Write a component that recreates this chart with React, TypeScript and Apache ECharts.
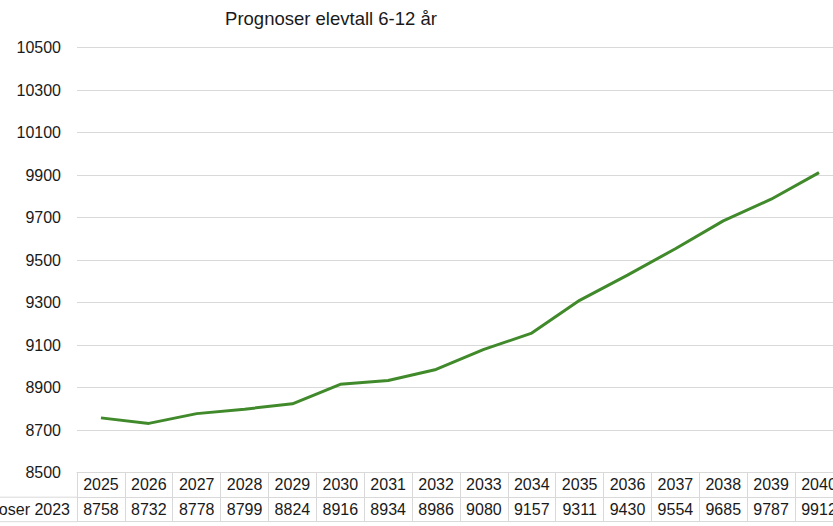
import React, { useEffect, useRef } from "react";
import * as echarts from "echarts";

const years = ["2025","2026","2027","2028","2029","2030","2031","2032","2033","2034","2035","2036","2037","2038","2039","2040"];
const values = [8758,8732,8778,8799,8824,8916,8934,8986,9080,9157,9311,9430,9554,9685,9787,9912];
const seriesName = "Prognoser 2023";
const title = "Prognoser elevtall 6-12 år";
const yTicks = { min: 8500, max: 10500, interval: 200 };

const FONT = "'Liberation Sans', Arial, sans-serif";
const GRID_LEFT = 77;
const COL_W = 47.87;
const GRID_W = COL_W * years.length;
const PLOT_TOP = 47.7;
const PLOT_H = 425;
const TABLE_TOP = PLOT_TOP + PLOT_H;
const ROW_H = 24.5;
const BORDER = "#d9d9d9";

export default function App() {
  const ref = useRef<HTMLDivElement>(null);
  useEffect(() => {
    if (!ref.current) return;
    const chart = echarts.init(ref.current, undefined, { renderer: "svg" });
    const tableData: any[] = [];
    years.forEach((y, i) => {
      tableData.push([i, 0, y]);
      tableData.push([i, 1, String(values[i])]);
    });
    chart.setOption({
      animation: false,
      backgroundColor: "#ffffff",
      title: {
        text: title,
        left: 326,
        top: 4,
        textAlign: "center",
        textStyle: { fontFamily: FONT, fontSize: 18.5, fontWeight: "normal", color: "#1a1a1a" },
      },
      grid: [
        { left: GRID_LEFT, top: PLOT_TOP, width: GRID_W, height: PLOT_H, containLabel: false, outerBoundsMode: "none" },
        { left: GRID_LEFT, top: TABLE_TOP, width: GRID_W, height: ROW_H * 2, containLabel: false, outerBoundsMode: "none" },
      ],
      xAxis: [
        {
          gridIndex: 0,
          type: "category",
          data: years,
          boundaryGap: true,
          axisLine: { show: true, lineStyle: { color: BORDER, width: 1 } },
          axisTick: { show: false },
          axisLabel: { show: false },
        },
        {
          gridIndex: 1,
          type: "category",
          data: years,
          boundaryGap: true,
          position: "bottom",
          axisLine: { show: true, lineStyle: { color: BORDER, width: 1 } },
          axisTick: { show: false },
          axisLabel: { show: false },
          splitLine: { show: true, lineStyle: { color: BORDER, width: 1 } },
        },
      ],
      yAxis: [
        {
          gridIndex: 0,
          type: "value",
          min: yTicks.min,
          max: yTicks.max,
          interval: yTicks.interval,
          axisLine: { show: false },
          axisTick: { show: false },
          axisLabel: { fontFamily: FONT, fontSize: 16, color: "#1a1a1a", margin: 16, formatter: (v: number) => String(v) },
          splitLine: { show: true, lineStyle: { color: BORDER, width: 1 } },
        },
        {
          gridIndex: 1,
          type: "category",
          data: ["", seriesName],
          inverse: true,
          boundaryGap: true,
          axisLine: { show: true, lineStyle: { color: BORDER, width: 1 } },
          axisTick: { show: false },
          axisLabel: { fontFamily: FONT, fontSize: 16, color: "#1a1a1a", margin: 7 },
          splitLine: { show: true, lineStyle: { color: BORDER, width: 1 } },
        },
      ],
      graphic: [
        { type: "line", shape: { x1: 0, y1: TABLE_TOP + ROW_H, x2: GRID_LEFT, y2: TABLE_TOP + ROW_H }, style: { stroke: BORDER, lineWidth: 1 } },
        { type: "line", shape: { x1: 0, y1: TABLE_TOP + 2 * ROW_H, x2: GRID_LEFT, y2: TABLE_TOP + 2 * ROW_H }, style: { stroke: BORDER, lineWidth: 1 } },
      ],
      series: [
        {
          name: seriesName,
          type: "line",
          xAxisIndex: 0,
          yAxisIndex: 0,
          data: values,
          symbol: "none",
          lineStyle: { color: "#418a2b", width: 3 },
          itemStyle: { color: "#418a2b" },
        },
        {
          type: "custom",
          xAxisIndex: 1,
          yAxisIndex: 1,
          data: tableData,
          encode: { x: 0, y: 1 },
          renderItem: (params: any, api: any) => {
            const idx = params.dataIndex;
            const item = tableData[idx];
            const p = api.coord([item[0], item[1]]);
            return {
              type: "text",
              x: p[0],
              y: p[1],
              style: {
                text: item[2],
                align: "center",
                verticalAlign: "middle",
                fontFamily: FONT,
                fontSize: 16,
                fill: "#1a1a1a",
              },
            };
          },
        },
      ],
    });
    return () => chart.dispose();
  }, []);
  return (
    <div style={{ position: "fixed", left: 0, top: 0, width: 833, height: 526, overflow: "hidden", background: "#fff" }}>
      <div ref={ref} style={{ width: 880, height: 526 }} />
    </div>
  );
}
